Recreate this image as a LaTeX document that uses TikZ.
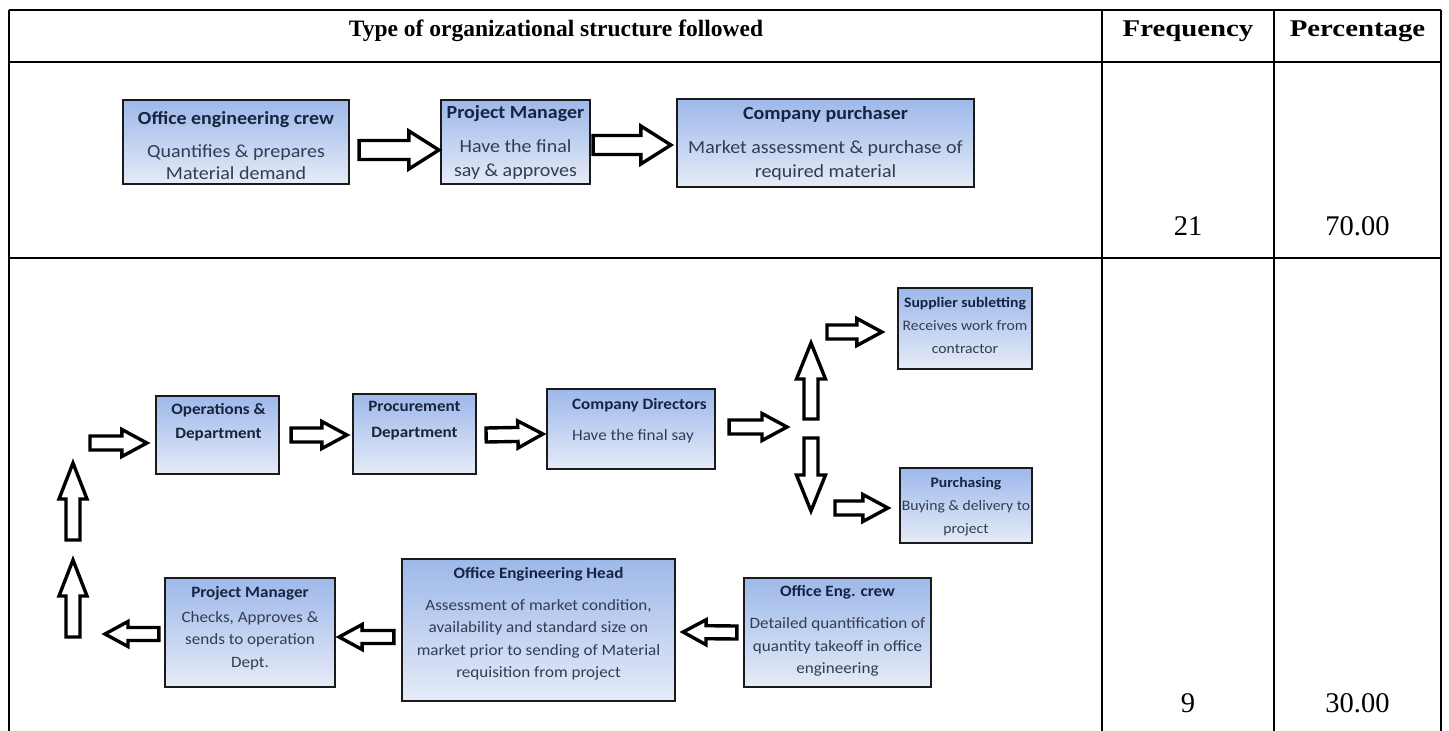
\documentclass[tikz,border=0pt]{standalone}
\usepackage{fontspec}
\setmainfont{Liberation Serif}
\newfontfamily\hdfont{Liberation Serif}[FakeStretch=1.2]
\newfontfamily\bx{Carlito}[FakeStretch=1.08]
\usetikzlibrary{calc}

\definecolor{ttl}{HTML}{17243F}
\definecolor{bdy}{HTML}{333D52}
\definecolor{boxtop}{HTML}{9DB8EA}
\definecolor{boxbot}{HTML}{E6EBF7}
\definecolor{bord}{HTML}{1A1A1A}

% block arrow: start, tip, shaft half-width, head half-width, head length
\newcommand\blockarrow[5]{%
  \coordinate (ba-h) at ($(#2)!#5!(#1)$);
  \draw[barrow] ($(#1)!#3!90:(#2)$) -- ($(ba-h)!#3!-90:(#1)$)
    -- ($(ba-h)!#4!-90:(#1)$) -- (#2) -- ($(ba-h)!#4!90:(#1)$)
    -- ($(ba-h)!#3!90:(#1)$) -- ($(#1)!#3!-90:(#2)$) -- cycle;
}

\begin{document}
\begin{tikzpicture}[x=1pt,y=-1pt,
  grid/.style={line width=1.8pt,black},
  hdr/.style={font=\fontsize{23.5}{28}\selectfont\bfseries,inner sep=0pt,anchor=base},
  hdrw/.style={font=\hdfont\fontsize{24}{28}\selectfont\bfseries,inner sep=0pt,anchor=base},
  num/.style={font=\fontsize{28.5}{32}\selectfont,inner sep=0pt,anchor=base},
  box/.style={rectangle,draw=bord,line width=2.2pt,top color=boxtop,bottom color=boxbot,inner sep=0pt},
  boxt/.style={align=center,inner sep=0pt,text=bdy},
  topf/.style={font=\bx\fontsize{18.5}{22}\selectfont},
  botf/.style={font=\bx\fontsize{15.8}{22.5}\selectfont},
  smlf/.style={font=\bx\fontsize{14.5}{23}\selectfont},
  barrow/.style={draw=black,fill=white,line width=3.4pt,line join=miter},
]
\useasboundingbox (0,0) rectangle (1449,731);

% table grid
\draw[grid] (9,10) -- (1441,10);
\draw[grid] (9,62) -- (1441,62);
\draw[grid] (9,258) -- (1441,258);
\draw[grid] (9,10) -- (9,731);
\draw[grid] (1102,10) -- (1102,731);
\draw[grid] (1274,10) -- (1274,731);
\draw[grid] (1441,10) -- (1441,731);

% header row
\node[hdr] (h-type) at (556,36) {Type of organizational structure followed};
\node[hdrw] (h-freq) at (1188,36) {Frequency};
\node[hdrw] (h-perc) at (1357.5,36) {Percentage};

% figures
\node[num] (n-f1) at (1188,235) {21};
\node[num] (n-p1) at (1357.5,235) {70.00};
\node[num] (n-f2) at (1188,712) {9};
\node[num] (n-p2) at (1357.5,712) {30.00};

% first structure
\node[box,minimum width=226,minimum height=84] (oec) at (236,142) {};
\node[boxt,topf] (oec-t) at (236,145.5) {{\color{ttl}\bfseries Office engineering crew}\\[11pt]Quantifies \& prepares\\Material demand};
\node[box,minimum width=149,minimum height=84] (pm1) at (515.5,142) {};
\node[boxt,topf] (pm1-t) at (515.5,142.5) {{\color{ttl}\bfseries Project Manager}\\[12pt]Have the final\\[2pt]say \& approves};
\node[box,minimum width=297,minimum height=88] (cp) at (825.5,143) {};
\node[boxt,topf] (cp-t) at (825.5,143) {{\color{ttl}\bfseries Company purchaser}\\[12pt]Market assessment \& purchase of\\[2pt]required material};

\coordinate (a1s) at ($(oec.east)+(9,8)$);
\coordinate (a1e) at ($(pm1.west)+(-1,8)$);
\blockarrow{a1s}{a1e}{9.5pt}{19pt}{30pt}
\coordinate (a2s) at ($(pm1.east)+(2,3)$);
\coordinate (a2e) at ($(cp.west)+(-5,2)$);
\blockarrow{a2s}{a2e}{9.5pt}{19pt}{30pt}

% second structure, upper chain
\node[box,minimum width=123,minimum height=78] (ops) at (217.5,435) {};
\node[boxt,botf,text=ttl,font=\bx\fontsize{15.8}{24}\selectfont\bfseries] (ops-t) at (218.5,422) {Operations \&\\Department};
\node[box,minimum width=123,minimum height=80] (proc) at (414.5,434) {};
\node[boxt,botf,text=ttl,font=\bx\fontsize{15.8}{26}\selectfont\bfseries] (proc-t) at (414.5,421) {Procurement\\Department};
\node[box,minimum width=168,minimum height=80] (dir) at (631,429) {};
\node[boxt,botf,align=left,anchor=west] (dir-t) at (572,420.5) {{\color{ttl}\bfseries Company Directors}\\[8.5pt]Have the final say};
\node[box,minimum width=134,minimum height=81] (sup) at (965,328.5) {};
\node[boxt,smlf] (sup-t) at (965,325.5) {{\color{ttl}\bfseries Supplier subletting}\\Receives work from\\contractor};
\node[box,minimum width=132,minimum height=75] (purch) at (966,505.5) {};
\node[boxt,smlf] (purch-t) at (966,507) {{\color{ttl}\bfseries Purchasing}\\Buying \& delivery to\\project};

\coordinate (b0s) at (90,443);
\coordinate (b0e) at ($(ops.west)+(-8,8)$);
\blockarrow{b0s}{b0e}{7pt}{13.5pt}{25pt}
\coordinate (b1s) at ($(ops.east)+(11,0)$);
\coordinate (b1e) at ($(proc.west)+(-5,1)$);
\blockarrow{b1s}{b1e}{7pt}{13.5pt}{25pt}
\coordinate (b2s) at ($(proc.east)+(9,1)$);
\coordinate (b2e) at ($(dir.west)+(-3,5)$);
\blockarrow{b2s}{b2e}{7pt}{13.5pt}{25pt}
\coordinate (b3s) at ($(dir.east)+(13,-2)$);
\coordinate (split) at (787,427);
\blockarrow{b3s}{split}{7pt}{13.5pt}{25pt}
\coordinate (up-s) at (811,419);
\coordinate (up-e) at (811,343);
\blockarrow{up-s}{up-e}{7pt}{14.5pt}{36pt}
\coordinate (b4s) at (827,332);
\coordinate (b4e) at ($(sup.west)+(-15,3.5)$);
\blockarrow{b4s}{b4e}{7pt}{13.5pt}{25pt}
\coordinate (dn-s) at (811,438);
\coordinate (dn-e) at (811,511);
\blockarrow{dn-s}{dn-e}{7pt}{14.5pt}{36pt}
\coordinate (b5s) at (835,508);
\coordinate (b5e) at ($(purch.west)+(-11,2.5)$);
\blockarrow{b5s}{b5e}{7pt}{13.5pt}{25pt}

% second structure, lower chain
\node[box,minimum width=273,minimum height=142] (oeh) at (538.5,630) {};
\node[boxt,botf] (oeh-t) at (538.5,624) {{\color{ttl}\bfseries Office Engineering Head}\\[9pt]Assessment of market condition,\\availability and standard size on\\market prior to sending of Material\\requisition from project};
\node[box,minimum width=187,minimum height=109] (oec2) at (837.5,632.5) {};
\node[boxt,botf] (oec2-t) at (837.5,631) {{\color{ttl}\bfseries Office Eng. crew}\\[10pt]Detailed quantification of\\quantity takeoff in office\\engineering};
\node[box,minimum width=170,minimum height=109] (pm2) at (250,632.5) {};
\node[boxt,botf] (pm2-t) at (250,628) {{\color{ttl}\bfseries Project Manager}\\[2pt]Checks, Approves \&\\sends to operation\\Dept.};

\coordinate (c1s) at ($(oec2.west)+(-6,0)$);
\coordinate (c1e) at ($(oeh.east)+(7,2)$);
\blockarrow{c1s}{c1e}{6.5pt}{12.5pt}{23pt}
\coordinate (c2s) at ($(oeh.west)+(-7,7)$);
\coordinate (c2e) at ($(pm2.east)+(3,4.5)$);
\blockarrow{c2s}{c2e}{6.5pt}{12.5pt}{23pt}
\coordinate (c3s) at ($(pm2.west)+(-5,1.5)$);
\coordinate (c3e) at (105,634);
\blockarrow{c3s}{c3e}{6.5pt}{12.5pt}{23pt}

\coordinate (u1s) at (73,637);
\coordinate (u1e) at (73,560);
\blockarrow{u1s}{u1e}{7pt}{14pt}{36pt}
\coordinate (u2s) at (73,540);
\coordinate (u2e) at (73,463);
\blockarrow{u2s}{u2e}{7pt}{14pt}{36pt}
\end{tikzpicture}
\end{document}
